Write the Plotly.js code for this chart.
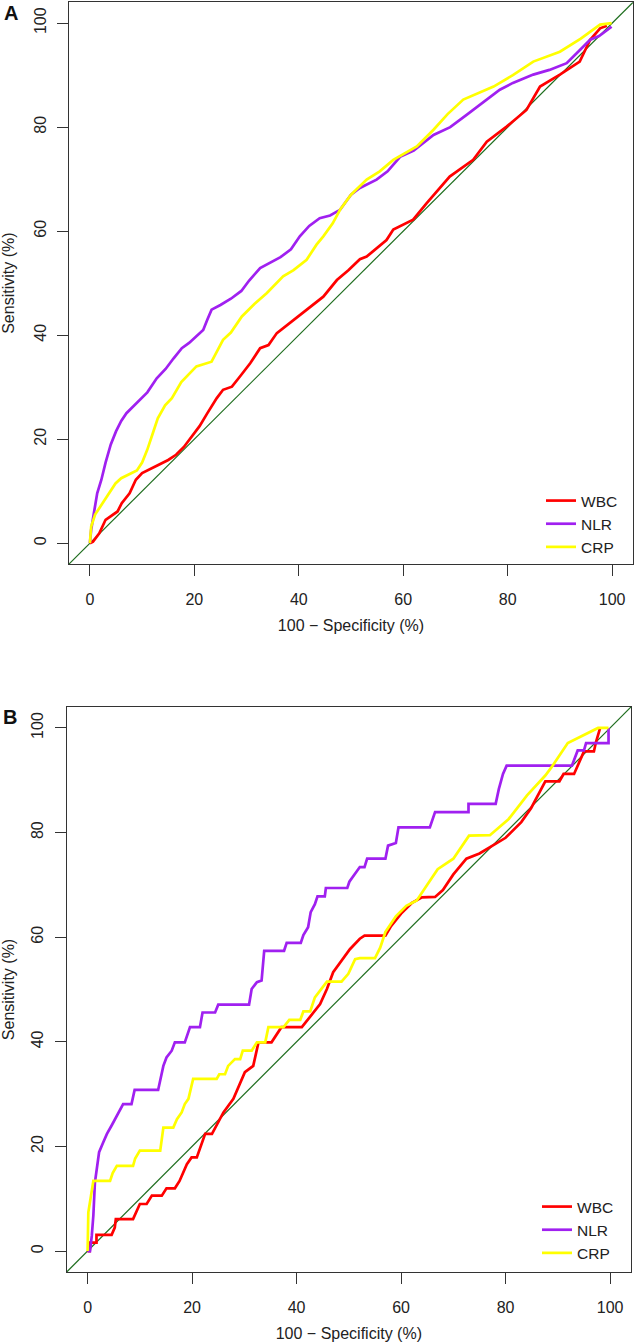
<!DOCTYPE html>
<html>
<head>
<meta charset="utf-8">
<script src="https://cdn.plot.ly/plotly-3.0.1.min.js"></script>
<style>
  html, body { margin: 0; padding: 0; background: #ffffff; }
  #chart { width: 636px; height: 1342px; }
</style>
</head>
<body>
<div id="chart"></div>
<script>
// ---------- Data ----------
const seriesNames = ["WBC", "NLR", "CRP"];
const seriesColors = ["#ff0000", "#a020f0", "#ffff00"];
const tickValues = [0, 20, 40, 60, 80, 100];
const axisRange = [-4, 104];

// Panel A
const aWbcX = [0, 0.6, 1.8, 3, 5.3, 6.1, 7.6, 8.8, 10, 11.5, 13, 15, 16.5, 18, 19.5, 21, 22.5, 24.3, 25.5, 27.2, 28.7, 30.7, 32.6, 34.2, 35.8, 38.9, 41.5, 44.7, 47.3, 49.5, 51.7, 53, 56.8, 58.1, 61.9, 64.5, 68.9, 73.4, 76, 79.8, 83.6, 86.2, 90, 93.8, 95.8, 97.7, 99];
const aWbcY = [0, 0.3, 1.9, 4.5, 6.1, 7.7, 9.6, 12.2, 13.5, 14.3, 15, 16, 17, 18.5, 20.5, 22.5, 25, 27.9, 29.5, 30.1, 32, 34.6, 37.5, 38.1, 40.4, 42.9, 44.9, 47.4, 50.6, 52.5, 54.6, 55.1, 58.3, 60.3, 62.2, 65.4, 70.5, 73.7, 77.2, 80.1, 83.3, 87.8, 90.1, 92.6, 96.8, 99, 99.5];

const aNlrX = [0, 0.25, 0.8, 1.4, 2.2, 3, 4, 5, 6, 7, 8, 9.6, 11, 12.8, 14.5, 16, 17.6, 19, 20.5, 21.7, 22.5, 23.3, 25, 27, 29, 30.5, 32.6, 34.5, 36.5, 38.5, 40.2, 42, 44, 46, 47.9, 50, 51.7, 54.9, 57, 59.4, 62, 65.8, 69, 72.2, 75, 78.5, 81, 84.9, 88, 91.3, 93.5, 95.8, 97.5, 99.9];
const aNlrY = [0, 2.6, 6, 9.6, 12.2, 15.5, 19, 21.5, 23.5, 25, 26, 27.6, 29, 31.7, 33.5, 35.5, 37.5, 38.5, 40, 41, 43, 44.9, 45.8, 47, 48.5, 50.5, 52.9, 54, 55, 56.5, 59, 61, 62.5, 63, 64.1, 67, 68.3, 69.9, 71.5, 74.3, 75.5, 78.5, 80, 82.4, 84.5, 87.2, 88.5, 90.1, 91, 92.3, 94.5, 96.8, 97.5, 99.3];

const aCrpX = [0, 0.25, 1, 1.8, 3.4, 4.9, 6, 7.5, 9, 10, 11, 12, 13, 14.4, 15.7, 17.5, 19, 20.4, 23.3, 25.5, 27, 29.1, 31.5, 33.9, 37, 39, 41.5, 43.4, 44.7, 46.5, 47.9, 50, 53, 55.5, 58.1, 62.6, 65.8, 68.5, 71.5, 77.3, 81, 84.9, 90, 94, 97.7, 99.9];
const aCrpY = [0, 3.2, 5.5, 6.7, 9.3, 11.5, 12.5, 13.3, 14, 15.5, 18, 21, 24, 26.5, 27.9, 31, 32.5, 34, 34.9, 39.1, 40.5, 43.6, 46, 48.1, 51.3, 52.5, 54.5, 57.4, 59, 61.5, 64.1, 67, 69.9, 71.5, 73.7, 76.3, 79.5, 82.5, 85.3, 87.8, 90, 92.6, 94.5, 97, 99.7, 100];

// Panel B
const bWbcX = [0, 0.4, 0.5, 1.7, 1.7, 4.6, 5.2, 5.4, 8.7, 10, 11.3, 12.3, 14.2, 15.1, 16.7, 17.6, 19, 19.9, 20.9, 22.5, 23.8, 26, 27.9, 29.5, 30.1, 31.7, 32.7, 35.2, 37.1, 41, 44.5, 45.8, 47, 50.2, 52.1, 53, 57, 58, 60, 62, 64, 66.5, 68, 70, 72.5, 75, 80, 83, 84.9, 87.6, 90.3, 91.1, 93.1, 95, 96.9, 97.3, 98.1];
const bWbcY = [0, 0, 1.6, 1.6, 3.1, 3.1, 4.5, 6.1, 6.1, 9, 9, 10.6, 10.6, 12, 12, 13.4, 16.6, 17.9, 17.9, 22.4, 22.4, 26.5, 29.1, 32.9, 34.2, 35.4, 39.9, 39.9, 42.8, 42.8, 47.2, 50.1, 53.3, 57.7, 59.7, 60.3, 60.3, 62, 64.5, 66.5, 67.6, 67.7, 69, 72, 75, 76, 79, 82, 84.7, 89.8, 89.8, 91.2, 91.2, 95.5, 95.5, 97.3, 100];

const bNlrX = [0, 0.46, 0.8, 1.1, 1.4, 1.9, 2.2, 3, 3.7, 4.6, 5.2, 5.9, 6.8, 8.4, 8.6, 9, 13.5, 13.9, 14.5, 15.1, 16.1, 16.7, 18.6, 19.6, 21.5, 22, 24.4, 25, 30.9, 31.4, 32.4, 33.3, 33.8, 37.6, 38.1, 40.8, 41.3, 42.2, 42.7, 43.5, 44, 45.4, 45.6, 49.7, 50.1, 52.1, 53, 53.5, 57, 57.5, 59, 59.5, 65.5, 66.5, 72.9, 72.9, 78.1, 78.7, 79.5, 80.2, 92.7, 93.8, 95, 95.4, 99.7, 99.7];
const bNlrY = [0, 0, 2.9, 6.8, 13.1, 16.3, 18.9, 20.8, 22.4, 24, 25.2, 26.5, 28.1, 28.1, 29.1, 30.8, 30.8, 32.9, 35.4, 37, 38.3, 39.9, 39.9, 42.8, 42.8, 45.6, 45.6, 47.1, 47.1, 50.1, 51.4, 51.7, 57.4, 57.4, 58.9, 58.9, 60.4, 61.9, 64.8, 66.3, 67.8, 67.8, 69.4, 69.4, 70.6, 73.4, 73.4, 75, 75, 77.5, 78, 81, 81, 83.9, 83.9, 85.5, 85.5, 88.3, 91.2, 92.8, 92.8, 95.7, 95.7, 97.1, 97.1, 100];

const bCrpX = [0, 0.14, 0.65, 1.1, 4.3, 4.8, 5.6, 8.7, 9.1, 10, 13.9, 14.5, 16.4, 17.1, 18, 18.6, 19.3, 20.2, 24.7, 25.2, 26.3, 26.9, 28.2, 29.2, 29.7, 31.4, 32.4, 34, 34.6, 37.5, 38.6, 40.7, 41.3, 42.6, 43.5, 45.8, 48.6, 49.9, 51.2, 52.1, 55, 56, 57, 59, 61, 63, 65, 67, 70, 72, 73, 77, 80.6, 84.1, 87.6, 88.8, 91.9, 97.7, 99.7];
const bCrpY = [0, 7.4, 10.6, 13.4, 13.4, 14.9, 16.3, 16.3, 17.7, 19.2, 19.2, 23.6, 23.6, 25.2, 26.5, 28.1, 29.1, 32.9, 32.9, 33.8, 33.8, 35.4, 36.7, 36.7, 38.3, 38.3, 39.9, 39.9, 42.8, 42.8, 44.2, 44.2, 45.8, 45.8, 48.5, 51.5, 51.5, 53, 55.8, 56, 56, 58, 61, 64, 66, 67, 70, 73, 75, 78, 79.4, 79.5, 82.6, 87.1, 90.9, 92.5, 97.1, 100, 100];

const xTitle = "100 − Specificity (%)";
const yTitle = "Sensitivity (%)";
const panelLabels = ["A", "B"];

// ---------- Build ----------
const FONT = "Liberation Sans, Arial, Helvetica, sans-serif";
const panels = [
  { xs: [aWbcX, aNlrX, aCrpX], ys: [aWbcY, aNlrY, aCrpY], xa: "x", ya: "y", legend: "legend" },
  { xs: [bWbcX, bNlrX, bCrpX], ys: [bWbcY, bNlrY, bCrpY], xa: "x2", ya: "y2", legend: "legend2" }
];

const traces = [];
panels.forEach(p => {
  traces.push({
    type: "scatter", mode: "lines", x: axisRange, y: axisRange,
    xaxis: p.xa, yaxis: p.ya, showlegend: false, hoverinfo: "skip",
    line: { color: "#1f6e1f", width: 1.2 }
  });
  seriesNames.forEach((name, i) => {
    traces.push({
      type: "scatter", mode: "lines", name: name,
      x: p.xs[i], y: p.ys[i], xaxis: p.xa, yaxis: p.ya,
      legend: p.legend,
      line: { color: seriesColors[i], width: 2.7 }
    });
  });
});

const W = 636, H = 1342;
function axisCommon() {
  return {
    range: axisRange.slice(), tickmode: "array", tickvals: tickValues,
    ticktext: tickValues.map(String),
    ticks: "outside", ticklen: 11, tickwidth: 1, tickcolor: "#333",
    showline: true, mirror: true, linecolor: "#333", linewidth: 1,
    showgrid: false, zeroline: false, fixedrange: true,
    tickfont: { family: FONT, size: 16, color: "#222" },
    automargin: false
  };
}
const titleFont = { family: FONT, size: 16, color: "#222" };
const xA = Object.assign(axisCommon(), {
  domain: [69 / W, 633 / W], anchor: "y",
  ticklabelstandoff: 10,
  title: { text: xTitle, font: titleFont, standoff: 12 }
});
const yA = Object.assign(axisCommon(), {
  domain: [1 - 564 / H, 1 - 2.3 / H], anchor: "x", tickangle: -90,
  ticklabelstandoff: 5,
  title: { text: yTitle, font: titleFont, standoff: 13 }
});
const xB = Object.assign(axisCommon(), {
  domain: [66.7 / W, 631 / W], anchor: "y2",
  ticklabelstandoff: 10,
  title: { text: xTitle, font: titleFont, standoff: 12 }
});
const yB = Object.assign(axisCommon(), {
  domain: [1 - 1272 / H, 1 - 707 / H], anchor: "x2", tickangle: -90,
  ticklabelstandoff: 5,
  title: { text: yTitle, font: titleFont, standoff: 13 }
});

const legendCommon = {
  bgcolor: "rgba(0,0,0,0)", borderwidth: 0,
  font: { family: FONT, size: 15.5, color: "#222" },
  xanchor: "left", yanchor: "top", tracegroupgap: 0
};

const layout = {
  width: W, height: H,
  margin: { l: 0, r: 0, t: 0, b: 0, pad: 0 },
  paper_bgcolor: "#ffffff", plot_bgcolor: "#ffffff",
  showlegend: true,
  xaxis: xA, yaxis: yA, xaxis2: xB, yaxis2: yB,
  legend: Object.assign({}, legendCommon, { x: 541 / W, y: 1 - 484 / H }),
  legend2: Object.assign({}, legendCommon, { x: 537 / W, y: 1 - 1190 / H }),
  annotations: [
    { text: "<b>" + panelLabels[0] + "</b>", xref: "paper", yref: "paper",
      x: 11 / W, y: 1 - 12.5 / H, xanchor: "center", yanchor: "middle",
      showarrow: false, font: { family: FONT, size: 20, color: "#111" } },
    { text: "<b>" + panelLabels[1] + "</b>", xref: "paper", yref: "paper",
      x: 10 / W, y: 1 - 716.5 / H, xanchor: "center", yanchor: "middle",
      showarrow: false, font: { family: FONT, size: 20, color: "#111" } }
  ]
};

Plotly.newPlot("chart", traces, layout, { staticPlot: true, displayModeBar: false });
</script>
</body>
</html>
